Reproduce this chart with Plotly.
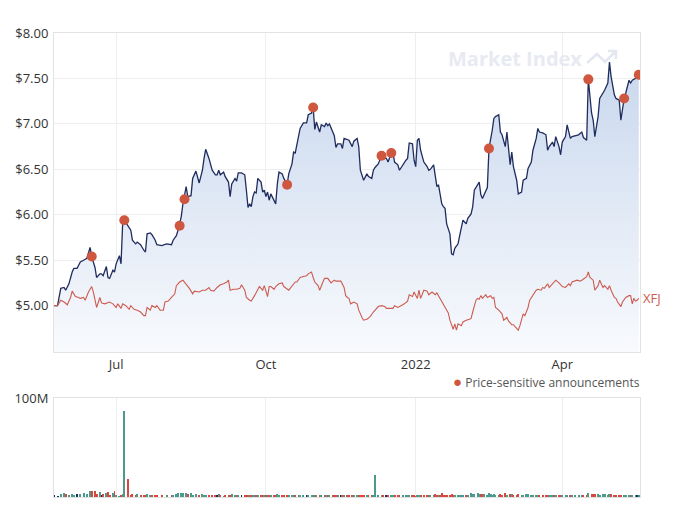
import plotly.graph_objects as go

# ---------------- data ----------------
price_dates = [
    "2021-05-24", "2021-05-26", "2021-05-28", "2021-05-30", "2021-05-31", "2021-06-02", "2021-06-04", "2021-06-05", "2021-06-07", "2021-06-09",
    "2021-06-11", "2021-06-13", "2021-06-15", "2021-06-16", "2021-06-18", "2021-06-19", "2021-06-21", "2021-06-22", "2021-06-23", "2021-06-25",
    "2021-06-26", "2021-06-27", "2021-06-29", "2021-06-30", "2021-07-01", "2021-07-03", "2021-07-04", "2021-07-05", "2021-07-06", "2021-07-08",
    "2021-07-10", "2021-07-11", "2021-07-13", "2021-07-14", "2021-07-16", "2021-07-18", "2021-07-19", "2021-07-20", "2021-07-22", "2021-07-23",
    "2021-07-25", "2021-07-26", "2021-07-29", "2021-08-01", "2021-08-04", "2021-08-05", "2021-08-07", "2021-08-08", "2021-08-10", "2021-08-11",
    "2021-08-13", "2021-08-14", "2021-08-16", "2021-08-17", "2021-08-19", "2021-08-21", "2021-08-23", "2021-08-24", "2021-08-25", "2021-08-27",
    "2021-08-29", "2021-08-31", "2021-09-01", "2021-09-02", "2021-09-03", "2021-09-05", "2021-09-06", "2021-09-08", "2021-09-09", "2021-09-10",
    "2021-09-12", "2021-09-13", "2021-09-14", "2021-09-16", "2021-09-18", "2021-09-19", "2021-09-20", "2021-09-21", "2021-09-22", "2021-09-23",
    "2021-09-24", "2021-09-25", "2021-09-26", "2021-09-28", "2021-09-29", "2021-09-30", "2021-10-01", "2021-10-02", "2021-10-03", "2021-10-04",
    "2021-10-06", "2021-10-07", "2021-10-08", "2021-10-09", "2021-10-11", "2021-10-12", "2021-10-14", "2021-10-15", "2021-10-17", "2021-10-18",
    "2021-10-19", "2021-10-21", "2021-10-22", "2021-10-24", "2021-10-26", "2021-10-27", "2021-10-29", "2021-10-30", "2021-10-31", "2021-11-01",
    "2021-11-03", "2021-11-04", "2021-11-06", "2021-11-07", "2021-11-08", "2021-11-09", "2021-11-11", "2021-11-12", "2021-11-13", "2021-11-14",
    "2021-11-16", "2021-11-17", "2021-11-18", "2021-11-20", "2021-11-21", "2021-11-23", "2021-11-24", "2021-11-26", "2021-11-27", "2021-11-28",
    "2021-11-29", "2021-11-30", "2021-12-02", "2021-12-03", "2021-12-05", "2021-12-06", "2021-12-07", "2021-12-09", "2021-12-11", "2021-12-12",
    "2021-12-14", "2021-12-15", "2021-12-17", "2021-12-18", "2021-12-19", "2021-12-21", "2021-12-22", "2021-12-24", "2021-12-26", "2021-12-27",
    "2021-12-28", "2021-12-30", "2021-12-31", "2022-01-01", "2022-01-02", "2022-01-03", "2022-01-04", "2022-01-06", "2022-01-08", "2022-01-09",
    "2022-01-10", "2022-01-12", "2022-01-13", "2022-01-14", "2022-01-15", "2022-01-16", "2022-01-17", "2022-01-18", "2022-01-19", "2022-01-20",
    "2022-01-22", "2022-01-23", "2022-01-24", "2022-01-25", "2022-01-27", "2022-01-28", "2022-01-29", "2022-01-30", "2022-02-01", "2022-02-02",
    "2022-02-04", "2022-02-05", "2022-02-06", "2022-02-08", "2022-02-09", "2022-02-10", "2022-02-11", "2022-02-12", "2022-02-14", "2022-02-15",
    "2022-02-16", "2022-02-17", "2022-02-18", "2022-02-19", "2022-02-21", "2022-02-22", "2022-02-23", "2022-02-25", "2022-02-26", "2022-02-28",
    "2022-03-01", "2022-03-02", "2022-03-04", "2022-03-05", "2022-03-07", "2022-03-08", "2022-03-10", "2022-03-11", "2022-03-13", "2022-03-14",
    "2022-03-16", "2022-03-17", "2022-03-18", "2022-03-20", "2022-03-22", "2022-03-23", "2022-03-24", "2022-03-25", "2022-03-26", "2022-03-27",
    "2022-03-28", "2022-03-30", "2022-03-31", "2022-04-01", "2022-04-03", "2022-04-04", "2022-04-06", "2022-04-07", "2022-04-09", "2022-04-11",
    "2022-04-13", "2022-04-14", "2022-04-16", "2022-04-17", "2022-04-19", "2022-04-20", "2022-04-21", "2022-04-23", "2022-04-24", "2022-04-26",
    "2022-04-27", "2022-04-29", "2022-04-30", "2022-05-01", "2022-05-03", "2022-05-04", "2022-05-06", "2022-05-07", "2022-05-09", "2022-05-10",
    "2022-05-12", "2022-05-13", "2022-05-14", "2022-05-16", "2022-05-17", "2022-05-18",
]
price_values = [
    5.00, 5.00, 5.19, 5.20, 5.17, 5.24, 5.37, 5.41, 5.41, 5.48,
    5.50, 5.52, 5.64, 5.54, 5.42, 5.31, 5.35, 5.35, 5.33, 5.43,
    5.31, 5.30, 5.39, 5.37, 5.46, 5.55, 5.46, 5.90, 5.94, 5.88,
    5.83, 5.72, 5.68, 5.70, 5.67, 5.61, 5.59, 5.79, 5.80, 5.78,
    5.72, 5.67, 5.66, 5.68, 5.67, 5.72, 5.77, 5.83, 5.98, 6.12,
    6.31, 6.20, 6.21, 6.40, 6.48, 6.35, 6.49, 6.62, 6.72, 6.62,
    6.49, 6.44, 6.44, 6.49, 6.44, 6.47, 6.42, 6.36, 6.20, 6.34,
    6.40, 6.37, 6.46, 6.46, 6.44, 6.27, 6.08, 6.12, 6.09, 6.20,
    6.25, 6.24, 6.40, 6.36, 6.25, 6.27, 6.20, 6.25, 6.16, 6.23,
    6.16, 6.12, 6.34, 6.47, 6.45, 6.40, 6.33, 6.45, 6.56, 6.69,
    6.68, 6.86, 6.95, 7.01, 7.01, 7.10, 7.12, 7.18, 6.94, 7.02,
    6.91, 6.99, 6.97, 7.01, 6.98, 7.00, 6.91, 6.87, 6.74, 6.78,
    6.78, 6.73, 6.84, 6.83, 6.82, 6.75, 6.81, 6.84, 6.75, 6.49,
    6.44, 6.38, 6.45, 6.42, 6.40, 6.49, 6.52, 6.56, 6.65, 6.62,
    6.62, 6.58, 6.68, 6.69, 6.58, 6.55, 6.49, 6.55, 6.60, 6.62,
    6.79, 6.78, 6.60, 6.53, 6.82, 6.84, 6.71, 6.58, 6.53, 6.49,
    6.50, 6.55, 6.42, 6.31, 6.33, 6.22, 6.12, 6.09, 6.07, 5.90,
    5.79, 5.57, 5.56, 5.63, 5.68, 5.77, 5.87, 5.94, 5.90, 5.96,
    6.01, 6.09, 6.27, 6.34, 6.36, 6.22, 6.18, 6.22, 6.30, 6.73,
    6.82, 6.93, 7.06, 7.08, 7.10, 6.91, 6.88, 6.75, 6.91, 6.55,
    6.69, 6.53, 6.38, 6.23, 6.25, 6.38, 6.40, 6.51, 6.58, 6.71,
    6.84, 6.95, 6.91, 6.90, 6.88, 6.71, 6.75, 6.77, 6.80, 6.75,
    6.86, 6.75, 6.66, 6.80, 6.86, 6.99, 6.84, 6.86, 6.87, 6.88,
    6.91, 6.85, 6.82, 7.49, 7.12, 7.04, 6.86, 7.08, 7.28, 7.34,
    7.37, 7.45, 7.68, 7.52, 7.32, 7.28, 7.26, 7.04, 7.28, 7.34,
    7.48, 7.45, 7.48, 7.50, 7.50, 7.54,
]
# traded volume, millions of shares (one value per price date)
volume_millions = [
    2.0, 1.5, 3.5, 3.6, 3.4, 2.5, 3.5, 1.8, 3.2, 2.6,
    3.8, 3.0, 6.0, 6.5, 5.8, 3.0, 4.8, 2.0, 3.5, 4.2,
    5.5, 2.0, 4.5, 6.3, 2.0, 1.5, 1.8, 3.0, 87.0, 18.0,
    2.5, 3.0, 1.8, 2.8, 2.2, 2.0, 2.5, 3.0, 2.2, 1.8,
    2.4, 2.0, 1.8, 1.7, 1.8, 1.9, 3.2, 4.2, 3.8, 4.0,
    3.6, 3.0, 3.8, 2.2, 2.6, 1.8, 2.7, 2.4, 2.0, 2.4,
    2.5, 2.0, 1.9, 2.6, 2.1, 1.5, 1.8, 1.7, 1.7, 2.8,
    2.2, 2.1, 2.5, 1.8, 2.1, 1.6, 2.2, 2.0, 2.2, 1.8,
    2.4, 1.9, 2.5, 1.8, 2.0, 2.3, 1.6, 1.9, 2.0, 2.2,
    2.0, 2.5, 2.8, 2.2, 1.8, 2.0, 2.1, 1.7, 2.3, 1.8,
    2.2, 1.9, 2.0, 1.6, 2.2, 2.5, 1.8, 2.0, 2.4, 1.9,
    1.8, 2.2, 2.0, 1.7, 1.9, 2.1, 1.8, 2.0, 1.9, 1.6,
    2.1, 1.8, 1.9, 2.2, 1.7, 2.0, 1.8, 2.2, 2.5, 2.0,
    1.9, 1.6, 2.0, 1.8, 1.7, 2.0, 22.0, 1.8, 2.0, 1.9,
    1.7, 2.0, 2.2, 1.8, 1.9, 2.1, 1.6, 1.8, 1.7, 1.9,
    2.0, 1.8, 1.6, 1.5, 2.0, 2.2, 1.8, 1.9, 2.0, 2.1,
    2.2, 2.4, 2.6, 2.3, 2.0, 2.5, 3.8, 2.2, 2.4, 2.2,
    2.0, 2.6, 2.4, 1.9, 2.1, 2.3, 2.0, 1.8, 2.2, 2.5,
    4.0, 3.2, 3.5, 3.8, 3.0, 3.3, 2.8, 3.4, 2.5, 4.3,
    2.8, 2.4, 3.0, 2.5, 2.0, 2.7, 2.5, 3.6, 2.4, 2.6,
    3.0, 2.4, 2.2, 3.0, 2.5, 2.0, 2.6, 3.2, 2.4, 2.0,
    2.2, 2.5, 2.0, 1.8, 2.0, 1.7, 2.2, 1.8, 2.0, 1.7,
    1.9, 2.0, 1.8, 1.7, 2.1, 1.8, 1.6, 1.9, 2.0, 1.7,
    1.8, 2.0, 1.9, 4.3, 3.0, 3.2, 2.8, 3.0, 2.5, 3.4,
    2.8, 2.5, 3.0, 2.6, 2.2, 2.0, 2.3, 2.1, 1.8, 2.0,
    1.9, 2.0, 1.7, 1.8, 1.6, 1.7,
]
# XFJ sector index, rebased to the share price at the start
xfj_dates = [
    "2021-05-24", "2021-05-26", "2021-05-28", "2021-05-30", "2021-06-01", "2021-06-03", "2021-06-04", "2021-06-06", "2021-06-08", "2021-06-09",
    "2021-06-11", "2021-06-12", "2021-06-14", "2021-06-16", "2021-06-17", "2021-06-19", "2021-06-21", "2021-06-22", "2021-06-24", "2021-06-27",
    "2021-06-29", "2021-07-01", "2021-07-02", "2021-07-04", "2021-07-05", "2021-07-07", "2021-07-09", "2021-07-10", "2021-07-12", "2021-07-14",
    "2021-07-16", "2021-07-18", "2021-07-19", "2021-07-20", "2021-07-22", "2021-07-23", "2021-07-25", "2021-07-26", "2021-07-28", "2021-07-30",
    "2021-07-31", "2021-08-02", "2021-08-04", "2021-08-06", "2021-08-07", "2021-08-09", "2021-08-11", "2021-08-13", "2021-08-15", "2021-08-17",
    "2021-08-18", "2021-08-21", "2021-08-23", "2021-08-25", "2021-08-27", "2021-08-28", "2021-08-30", "2021-09-01", "2021-09-03", "2021-09-05",
    "2021-09-07", "2021-09-08", "2021-09-09", "2021-09-11", "2021-09-13", "2021-09-15", "2021-09-16", "2021-09-18", "2021-09-19", "2021-09-21",
    "2021-09-22", "2021-09-24", "2021-09-26", "2021-09-27", "2021-09-29", "2021-09-30", "2021-10-02", "2021-10-03", "2021-10-04", "2021-10-06",
    "2021-10-07", "2021-10-09", "2021-10-11", "2021-10-12", "2021-10-15", "2021-10-17", "2021-10-19", "2021-10-20", "2021-10-22", "2021-10-24",
    "2021-10-26", "2021-10-27", "2021-10-29", "2021-10-30", "2021-10-31", "2021-11-02", "2021-11-03", "2021-11-05", "2021-11-06", "2021-11-08",
    "2021-11-10", "2021-11-12", "2021-11-13", "2021-11-15", "2021-11-16", "2021-11-18", "2021-11-19", "2021-11-20", "2021-11-21", "2021-11-22",
    "2021-11-24", "2021-11-26", "2021-11-27", "2021-11-29", "2021-11-30", "2021-12-02", "2021-12-04", "2021-12-06", "2021-12-07", "2021-12-09",
    "2021-12-11", "2021-12-13", "2021-12-14", "2021-12-16", "2021-12-18", "2021-12-19", "2021-12-21", "2021-12-23", "2021-12-25", "2021-12-27",
    "2021-12-28", "2021-12-30", "2021-12-31", "2022-01-02", "2022-01-03", "2022-01-04", "2022-01-06", "2022-01-08", "2022-01-09", "2022-01-11",
    "2022-01-13", "2022-01-14", "2022-01-16", "2022-01-18", "2022-01-20", "2022-01-21", "2022-01-22", "2022-01-24", "2022-01-25", "2022-01-26",
    "2022-01-27", "2022-01-29", "2022-01-30", "2022-02-01", "2022-02-03", "2022-02-04", "2022-02-05", "2022-02-06", "2022-02-07", "2022-02-08",
    "2022-02-09", "2022-02-10", "2022-02-11", "2022-02-13", "2022-02-14", "2022-02-16", "2022-02-17", "2022-02-18", "2022-02-19", "2022-02-21",
    "2022-02-23", "2022-02-24", "2022-02-26", "2022-02-27", "2022-03-01", "2022-03-02", "2022-03-04", "2022-03-05", "2022-03-06", "2022-03-07",
    "2022-03-08", "2022-03-09", "2022-03-11", "2022-03-12", "2022-03-14", "2022-03-16", "2022-03-17", "2022-03-19", "2022-03-20", "2022-03-21",
    "2022-03-23", "2022-03-24", "2022-03-25", "2022-03-27", "2022-03-28", "2022-03-30", "2022-04-01", "2022-04-03", "2022-04-05", "2022-04-06",
    "2022-04-07", "2022-04-10", "2022-04-12", "2022-04-13", "2022-04-15", "2022-04-16", "2022-04-17", "2022-04-18", "2022-04-20", "2022-04-21",
    "2022-04-23", "2022-04-24", "2022-04-26", "2022-04-27", "2022-04-29", "2022-04-30", "2022-05-01", "2022-05-03", "2022-05-04", "2022-05-05",
    "2022-05-07", "2022-05-08", "2022-05-10", "2022-05-12", "2022-05-13", "2022-05-14", "2022-05-15", "2022-05-16", "2022-05-17", "2022-05-18",
]
xfj_values = [
    5.00, 5.00, 5.06, 5.04, 5.01, 5.09, 5.16, 5.10, 5.09, 5.08,
    5.09, 5.06, 5.15, 5.21, 5.15, 4.98, 5.09, 5.03, 5.02, 5.04,
    5.02, 4.98, 5.02, 4.97, 5.02, 5.00, 4.96, 5.00, 4.96, 4.95,
    4.93, 4.89, 4.89, 4.98, 4.95, 5.00, 4.98, 5.00, 4.95, 4.95,
    5.04, 5.05, 5.09, 5.13, 5.22, 5.26, 5.28, 5.24, 5.19, 5.13,
    5.16, 5.15, 5.17, 5.17, 5.20, 5.17, 5.16, 5.20, 5.23, 5.24,
    5.26, 5.28, 5.17, 5.18, 5.18, 5.19, 5.23, 5.17, 5.09, 5.06,
    5.05, 5.11, 5.17, 5.21, 5.17, 5.22, 5.10, 5.21, 5.21, 5.18,
    5.21, 5.24, 5.25, 5.21, 5.17, 5.22, 5.26, 5.26, 5.31, 5.32,
    5.33, 5.35, 5.37, 5.31, 5.26, 5.22, 5.17, 5.26, 5.30, 5.30,
    5.25, 5.28, 5.27, 5.27, 5.27, 5.20, 5.11, 5.09, 5.08, 5.02,
    5.04, 5.02, 4.95, 4.87, 4.84, 4.85, 4.88, 4.93, 4.95, 4.99,
    5.00, 4.99, 4.97, 4.97, 4.97, 5.00, 4.98, 5.00, 5.02, 5.05,
    5.12, 5.10, 5.15, 5.08, 5.17, 5.08, 5.17, 5.16, 5.12, 5.15,
    5.12, 5.14, 5.08, 5.02, 4.95, 4.92, 4.84, 4.74, 4.80, 4.73,
    4.80, 4.78, 4.82, 4.84, 4.85, 4.86, 4.93, 5.00, 5.06, 5.08,
    5.07, 5.11, 5.08, 5.12, 5.09, 5.11, 5.08, 5.09, 4.98, 4.95,
    4.91, 4.84, 4.87, 4.83, 4.79, 4.79, 4.75, 4.73, 4.78, 4.84,
    4.91, 4.89, 4.98, 5.06, 5.11, 5.17, 5.18, 5.17, 5.20, 5.19,
    5.24, 5.20, 5.22, 5.26, 5.28, 5.25, 5.21, 5.20, 5.24, 5.22,
    5.26, 5.28, 5.27, 5.28, 5.31, 5.32, 5.37, 5.31, 5.28, 5.17,
    5.22, 5.28, 5.20, 5.22, 5.18, 5.22, 5.17, 5.09, 5.08, 5.04,
    4.99, 5.04, 5.09, 5.11, 5.11, 5.02, 5.08, 5.05, 5.06, 5.08,
]
announce_dates = ["2021-06-16", "2021-07-06", "2021-08-09", "2021-08-12", "2021-10-14", "2021-10-30",
                  "2021-12-11", "2021-12-17", "2022-02-15", "2022-04-17", "2022-05-09", "2022-05-18"]
announce_values = [5.54, 5.94, 5.88, 6.17, 6.33, 7.18, 6.65, 6.68, 6.73, 7.49, 7.28, 7.54]

price_ticks = [5.0, 5.5, 6.0, 6.5, 7.0, 7.5, 8.0]
price_tick_labels = ["$5.00", "$5.50", "$6.00", "$6.50", "$7.00", "$7.50", "$8.00"]
month_tick_dates = ["2021-07-01", "2021-10-01", "2022-01-01", "2022-04-01"]
month_tick_labels = ["Jul", "Oct", "2022", "Apr"]
volume_ticks = [100e6]
volume_tick_labels = ["100M"]

# ---------------- styling ----------------
NAVY = "#1f2c5e"
XFJ_RED = "#cd5b50"
DOT = "#cf573f"
UP = "#4b9a8c"
DOWN = "#d5493f"
GRID = "#eeeeee"
BORDER = "#e2e2e2"
FONT = "Open Sans"

if not (len(price_dates) == len(price_values) == len(volume_millions)):
    raise ValueError("price/volume length mismatch")
if len(xfj_dates) != len(xfj_values):
    raise ValueError("xfj length mismatch")

volume = [v * 1e6 for v in volume_millions]
bar_colors = [NAVY]
for i in range(1, len(price_values)):
    if price_values[i] > price_values[i - 1]:
        bar_colors.append(UP)
    elif price_values[i] < price_values[i - 1]:
        bar_colors.append(DOWN)
    else:
        bar_colors.append(NAVY)

x_range = ["2021-05-23 20:00", "2022-05-18 18:00"]

fig = go.Figure()
fig.add_trace(go.Scatter(
    x=price_dates, y=price_values, mode="lines",
    line=dict(color=NAVY, width=1.3),
    fill="tozeroy",
    fillgradient=dict(type="vertical", start=4.49, stop=8.0,
                      colorscale=[[0, "rgb(248,250,253)"], [1, "rgb(196,212,236)"]]),
    showlegend=False, hoverinfo="x+y",
))
fig.add_trace(go.Scatter(
    x=xfj_dates, y=xfj_values, mode="lines",
    line=dict(color=XFJ_RED, width=1.1), showlegend=False,
))
fig.add_trace(go.Scatter(
    x=announce_dates, y=announce_values, mode="markers",
    marker=dict(color=DOT, size=10, line=dict(width=0)),
    name="Price-sensitive announcements", showlegend=False,
))
fig.add_trace(go.Bar(
    x=price_dates, y=volume, xaxis="x2", yaxis="y2",
    marker=dict(color=bar_colors, line=dict(width=0)),
    width=0.6 * 86400000, showlegend=False,
))

axis_common = dict(showline=True, linecolor=BORDER, linewidth=1, mirror=True,
                   gridcolor=GRID, gridwidth=1, zeroline=False, ticks="",
                   tickfont=dict(family=FONT, size=13, color="#333333"))

fig.update_layout(
    width=693, height=516,
    margin=dict(l=54, r=53, t=33, b=19),
    paper_bgcolor="white", plot_bgcolor="white",
    font=dict(family=FONT, color="#333333"),
    bargap=0,
    xaxis=dict(type="date", range=x_range, domain=[0, 1], anchor="y",
               tickvals=month_tick_dates, ticktext=month_tick_labels,
               showgrid=True, **axis_common),
    yaxis=dict(range=[4.49, 8.0], domain=[0.3125, 1], anchor="x",
               tickvals=price_ticks, ticktext=price_tick_labels,
               showgrid=True, ticklabelstandoff=2, **axis_common),
    xaxis2=dict(type="date", range=x_range, domain=[0, 1], anchor="y2",
                tickvals=month_tick_dates, showticklabels=False,
                showgrid=True, **axis_common),
    yaxis2=dict(range=[0, 100e6], domain=[0, 0.2134], anchor="x2",
                tickvals=volume_ticks, ticktext=volume_tick_labels,
                showgrid=True, ticklabelstandoff=2, **axis_common),
)

# series label at the end of the XFJ line
fig.add_annotation(x=xfj_dates[-1], y=xfj_values[-1], xref="x", yref="y",
                   text="XFJ", showarrow=False, xanchor="left", yanchor="middle",
                   xshift=2, font=dict(family=FONT, size=13, color=XFJ_RED))

# legend entry for announcements
fig.add_annotation(x=1.003, y=0.25, xref="paper", yref="paper", xanchor="right", yanchor="middle",
                   text="<span style='color:%s;font-size:15px'>●</span> Price-sensitive announcements" % DOT,
                   showarrow=False, font=dict(family=FONT, size=12, color="#555555"))

# watermark
fig.add_annotation(x=0.669, y=0.946, xref="paper", yref="paper", xanchor="left", yanchor="middle",
                   text="<b>Market Index</b>", showarrow=False,
                   font=dict(family=FONT, size=20, color="#e7eaf2"))
fig.add_shape(type="path", xref="paper", yref="paper", layer="below",
              path="M 0.9096,0.9353 L 0.9266,0.9547 L 0.9403,0.9375 L 0.9590,0.9612 "
                   "M 0.9454,0.9612 L 0.9590,0.9612 L 0.9590,0.9440",
              line=dict(color="#e3e7f0", width=2.5))

fig.write_html("out.html")
